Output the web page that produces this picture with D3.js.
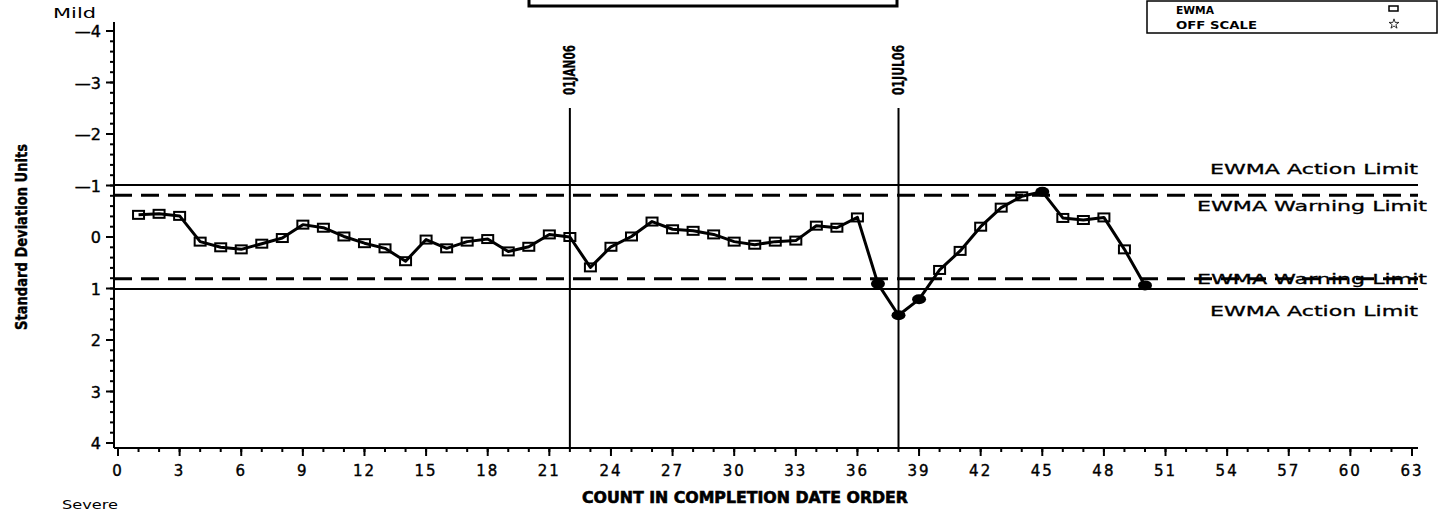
<!DOCTYPE html>
<html>
<head>
<meta charset="utf-8">
<script src="https://cdn.jsdelivr.net/npm/d3@7"></script>
<style>
  body { margin: 0; background: #fff; }
  svg { display: block; }
  text { font-family: "DejaVu Sans", sans-serif; fill: #000; }
</style>
</head>
<body>
<div id="chart"></div>
<script>
// EWMA values, standardised, in completion order
const counts = d3.range(1, 51);
const ewma = [-0.43, -0.45, -0.41, 0.09, 0.20, 0.24, 0.13, 0.02, -0.24, -0.18,
              -0.01, 0.12, 0.22, 0.47, 0.05, 0.22, 0.09, 0.04, 0.28, 0.19,
              -0.05, 0.00, 0.59, 0.19, -0.01, -0.30, -0.15, -0.12, -0.05, 0.09,
              0.15, 0.09, 0.07, -0.22, -0.18, -0.38, 0.91, 1.52, 1.21, 0.64,
              0.27, -0.20, -0.57, -0.79, -0.88, -0.37, -0.33, -0.38, 0.24, 0.94];
const actionLimit = 1.01;
const warningLimit = 0.81;
const refLines = [{ x: 22, label: "01JAN06" }, { x: 38, label: "01JUL06" }];
const xTicks = d3.range(0, 64, 3);
const yTicks = d3.range(-4, 5, 1);

const width = 1447, height = 514;

const svg = d3.select("#chart").append("svg")
  .attr("width", width)
  .attr("height", height);

const x = d3.scaleLinear().domain([0, 63]).range([118, 1412]);
const y = d3.scaleLinear().domain([-4, 4]).range([31, 443]);

const axisLeftX = 114, axisBottomY = 448, plotRight = 1418;

// top box (title frame, cut off)
svg.append("rect")
  .attr("x", 529).attr("y", -10).attr("width", 368).attr("height", 16)
  .attr("fill", "none").attr("stroke", "#000").attr("stroke-width", 3);

// legend
const lg = svg.append("g");
lg.append("rect")
  .attr("x", 1147).attr("y", 1).attr("width", 290).attr("height", 32)
  .attr("fill", "none").attr("stroke", "#000").attr("stroke-width", 1.5);
lg.append("text").attr("x", 1176).attr("y", 14)
  .attr("font-size", 11).attr("font-weight", "bold")
  .attr("textLength", 38).attr("lengthAdjust", "spacingAndGlyphs").text("EWMA");
lg.append("text").attr("x", 1176).attr("y", 29)
  .attr("font-size", 11).attr("font-weight", "bold")
  .attr("textLength", 81).attr("lengthAdjust", "spacingAndGlyphs").text("OFF SCALE");
lg.append("rect").attr("x", 1389).attr("y", 6).attr("width", 9).attr("height", 5)
  .attr("fill", "none").attr("stroke", "#000").attr("stroke-width", 1.5);
lg.append("path")
  .attr("d", d3.symbol(d3.symbolStar, 30)())
  .attr("transform", "translate(1394,24)")
  .attr("fill", "none").attr("stroke", "#000").attr("stroke-width", 0.8);

// y axis
svg.append("line")
  .attr("x1", axisLeftX).attr("x2", axisLeftX)
  .attr("y1", 22).attr("y2", axisBottomY)
  .attr("stroke", "#000").attr("stroke-width", 2);

const yMinor = d3.range(-4, 4.01, 0.2);
svg.append("g").selectAll("line").data(yMinor).join("line")
  .attr("x1", axisLeftX - 4).attr("x2", axisLeftX)
  .attr("y1", d => y(d)).attr("y2", d => y(d))
  .attr("stroke", "#000").attr("stroke-width", 2);
svg.append("g").selectAll("line").data(yTicks).join("line")
  .attr("x1", axisLeftX - 8).attr("x2", axisLeftX)
  .attr("y1", d => y(d)).attr("y2", d => y(d))
  .attr("stroke", "#000").attr("stroke-width", 2);
svg.append("g").selectAll("text").data(yTicks).join("text")
  .attr("x", 101).attr("y", d => y(d) + 6)
  .attr("text-anchor", "end").attr("font-size", 16)
  .attr("stroke", "#000").attr("stroke-width", 0.4)
  .text(d => d < 0 ? "\u2014" + Math.abs(d) : d);

// x axis
svg.append("line")
  .attr("x1", axisLeftX).attr("x2", plotRight)
  .attr("y1", axisBottomY).attr("y2", axisBottomY)
  .attr("stroke", "#000").attr("stroke-width", 2);
svg.append("g").selectAll("line").data(d3.range(0, 64)).join("line")
  .attr("x1", d => x(d)).attr("x2", d => x(d))
  .attr("y1", axisBottomY).attr("y2", axisBottomY + 4)
  .attr("stroke", "#000").attr("stroke-width", 2);
svg.append("g").selectAll("line").data(xTicks).join("line")
  .attr("x1", d => x(d)).attr("x2", d => x(d))
  .attr("y1", axisBottomY).attr("y2", axisBottomY + 8)
  .attr("stroke", "#000").attr("stroke-width", 2);
svg.append("g").selectAll("text").data(xTicks).join("text")
  .attr("x", d => x(d)).attr("y", 476)
  .attr("text-anchor", "middle").attr("font-size", 15)
  .attr("letter-spacing", 2)
  .attr("stroke", "#000").attr("stroke-width", 0.4)
  .text(d => d);

// axis titles
svg.append("text")
  .attr("x", 745).attr("y", 503)
  .attr("text-anchor", "middle").attr("font-size", 15).attr("font-weight", "bold")
  .attr("stroke", "#000").attr("stroke-width", 0.6)
  .attr("textLength", 326).attr("lengthAdjust", "spacingAndGlyphs")
  .text("COUNT IN COMPLETION DATE ORDER");

svg.append("text")
  .attr("transform", "translate(27,237) rotate(-90)")
  .attr("text-anchor", "middle").attr("font-size", 16).attr("font-weight", "bold")
  .attr("font-family", "'Liberation Sans Narrow', 'DejaVu Sans Condensed', sans-serif")
  .attr("stroke", "#000").attr("stroke-width", 0.4)
  .attr("textLength", 186).attr("lengthAdjust", "spacingAndGlyphs")
  .text("Standard Deviation Units");

svg.append("text").attr("x", 53).attr("y", 18).attr("font-size", 14)
  .attr("textLength", 43).attr("lengthAdjust", "spacingAndGlyphs").text("Mild");
svg.append("text").attr("x", 62).attr("y", 509).attr("font-size", 13)
  .attr("textLength", 56).attr("lengthAdjust", "spacingAndGlyphs").text("Severe");

// limit lines
[-actionLimit, actionLimit].forEach(v => {
  svg.append("line")
    .attr("x1", axisLeftX).attr("x2", plotRight)
    .attr("y1", y(v)).attr("y2", y(v))
    .attr("stroke", "#000").attr("stroke-width", 2);
});
[-warningLimit, warningLimit].forEach(v => {
  svg.append("line")
    .attr("x1", axisLeftX).attr("x2", plotRight)
    .attr("y1", y(v)).attr("y2", y(v))
    .attr("stroke", "#000").attr("stroke-width", 3)
    .attr("stroke-dasharray", "18,9");
});

const limitLabel = (txt, xx, yy, len) => svg.append("text")
  .attr("x", xx).attr("y", yy).attr("font-size", 14)
  .attr("stroke", "#000").attr("stroke-width", 0.3)
  .attr("textLength", len).attr("lengthAdjust", "spacingAndGlyphs")
  .text(txt);
limitLabel("EWMA Action Limit", 1210, y(-actionLimit) - 11, 208);
limitLabel("EWMA Warning Limit", 1197, y(-warningLimit) + 16, 230);
limitLabel("EWMA Warning Limit", 1197, y(warningLimit) + 5, 230);
limitLabel("EWMA Action Limit", 1210, y(actionLimit) + 27, 208);

// reference lines
refLines.forEach(r => {
  svg.append("line")
    .attr("x1", x(r.x)).attr("x2", x(r.x))
    .attr("y1", 108).attr("y2", axisBottomY)
    .attr("stroke", "#000").attr("stroke-width", 2);
  svg.append("text")
    .attr("transform", `translate(${x(r.x) + 5},95) rotate(-90)`)
    .attr("font-size", 15).attr("font-weight", "bold")
    .attr("font-family", "'Liberation Sans Narrow', 'DejaVu Sans Condensed', sans-serif")
    .attr("stroke", "#000").attr("stroke-width", 0.3)
    .attr("textLength", 50).attr("lengthAdjust", "spacingAndGlyphs")
    .text(r.label);
});

// EWMA series
const pts = counts.map((c, i) => ({ c, v: ewma[i] }));
svg.append("path")
  .datum(pts)
  .attr("fill", "none").attr("stroke", "#000").attr("stroke-width", 3)
  .attr("stroke-linejoin", "round")
  .attr("d", d3.line().x(d => x(d.c)).y(d => y(d.v)));

const inside = pts.filter(d => Math.abs(d.v) <= warningLimit);
const outside = pts.filter(d => Math.abs(d.v) > warningLimit);

svg.append("g").selectAll("rect").data(inside).join("rect")
  .attr("x", d => x(d.c) - 5.5).attr("y", d => y(d.v) - 4)
  .attr("width", 11).attr("height", 8)
  .attr("fill", "none").attr("stroke", "#000").attr("stroke-width", 2);

svg.append("g").selectAll("ellipse").data(outside).join("ellipse")
  .attr("cx", d => x(d.c)).attr("cy", d => y(d.v))
  .attr("rx", 7).attr("ry", 5)
  .attr("fill", "#000");
</script>
</body>
</html>
